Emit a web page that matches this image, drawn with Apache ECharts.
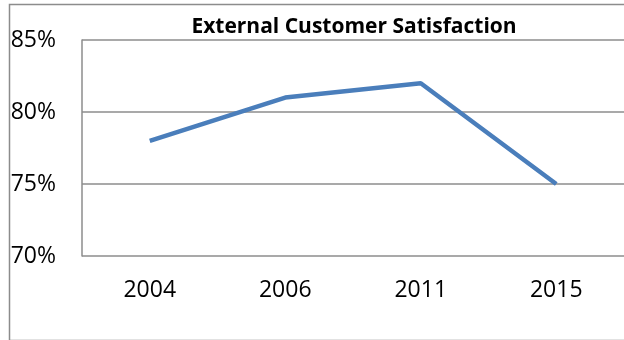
<!DOCTYPE html>
<html><head><meta charset="utf-8">
<script src="https://cdn.jsdelivr.net/npm/echarts@6/dist/echarts.min.js"></script>
<style>html,body{margin:0;padding:0;background:#fff}#c{width:624px;height:340px}</style>
</head><body><div id="c"></div>
<script>
const categories = ['2004', '2006', '2011', '2015'];
const satisfaction = [78, 81, 82, 75];
const yTicks = [70, 75, 80, 85];
const title = 'External Customer Satisfaction';

const chart = echarts.init(document.getElementById('c'), null, {renderer: 'canvas'});
chart.setOption({
  animation: false,
  graphic: [{
    type: 'rect', left: 7, top: 2, shape: {width: 640, height: 336},
    style: {fill: 'none', stroke: '#8c8c8c', lineWidth: 1.5}, z: -1
  }],
  title: {
    text: title, left: 349, top: 12, textAlign: 'center',
    textStyle: {fontFamily: 'Open Sans', fontWeight: 'bold', fontSize: 21, color: '#000'}
  },
  grid: {left: 82, top: 40, width: 544, height: 216},
  xAxis: {
    type: 'category', data: categories, boundaryGap: true,
    axisLine: {show: false}, axisTick: {show: false},
    axisLabel: {fontFamily: 'Open Sans', fontSize: 23, color: '#000', margin: 23}
  },
  yAxis: {
    type: 'value', min: yTicks[0], max: yTicks[yTicks.length - 1], interval: 5,
    axisLine: {show: true, lineStyle: {color: '#8c8c8c', width: 1.5}},
    axisTick: {show: false},
    splitLine: {lineStyle: {color: '#8c8c8c', width: 1.5}},
    axisLabel: {fontFamily: 'Open Sans', fontSize: 23, color: '#000', margin: 26, formatter: v => v + '%'}
  },
  series: [{
    type: 'line', data: satisfaction, symbol: 'none',
    lineStyle: {color: '#4a7ebb', width: 4.5}
  }]
});
</script></body></html>
